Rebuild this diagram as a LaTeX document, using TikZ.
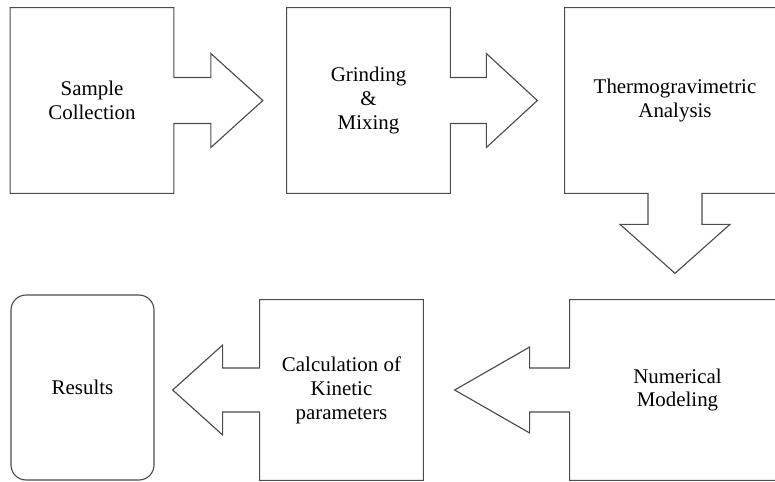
\documentclass[tikz,border=0pt]{standalone}
\usepackage{fontspec}
\setmainfont{Liberation Serif}
\usetikzlibrary{calc}

\begin{document}
\begin{tikzpicture}[
    x=0.02cm, y=-0.02cm,
    stage/.style={rectangle, inner sep=0pt, minimum width=3.26cm, minimum height=3.7cm, align=center, font=\fontsize{11.9}{13.6}\selectfont},
    wide_stage/.style={stage, minimum width=4.4cm},
    low_stage/.style={stage, minimum height=3.6cm},
    outline/.style={draw=black!70, line width=0.65pt, line join=miter},
    result_box/.style={stage, outline, rounded corners=0.3cm, minimum width=2.86cm}
]
\clip (0,0) rectangle (775,481);

% --- TOP ROW ---
\node[stage] (sample) at (92,100.5) {Sample\\Collection};
\node[stage] (grind) at (368.5,100.5) {Grinding\\\&\\Mixing};
\node[wide_stage] (thermo) at (675,100.5) {Thermogravimetric\\Analysis};

% Box outlines with block arrows to the right
\draw[outline] (sample.north west) -- (sample.north east) -- ($(sample.east)+(0,-23)$) -- ++(37,0) -- ++(0,-24)
    -- ++(52,47) -- ++(-52,47) -- ++(0,-24) -- ++(-37,0) -- (sample.south east) -- (sample.south west) -- cycle;
\draw[outline] (grind.north west) -- (grind.north east) -- ($(grind.east)+(0,-23)$) -- ++(36,0) -- ++(0,-24)
    -- ++(51,47) -- ++(-51,47) -- ++(0,-24) -- ++(-36,0) -- (grind.south east) -- (grind.south west) -- cycle;

% Block arrow pointing down
\draw[outline] (thermo.south west) -- ($(thermo.south)+(-27,0)$) -- ++(0,31) -- ++(-28,0) -- ++(55,49)
    -- ++(55,-49) -- ++(-28,0) -- ++(0,-31) -- (thermo.south east) -- (thermo.north east) -- (thermo.north west) -- cycle;

% --- BOTTOM ROW ---
\node[low_stage, minimum width=4.3cm] (numeric) at (677.5,390) {Numerical\\Modeling};
\node[low_stage] (kinetic) at (341.5,390) {Calculation of\\Kinetic\\parameters};
\node[result_box] (results) at (82.5,387.5) {Results};

% Box outlines with block arrows to the left
\draw[outline] (numeric.north east) -- (numeric.north west) -- ($(numeric.west)+(0,-22)$) -- ++(-40,0) -- ++(0,-21)
    -- ++(-75,43) -- ++(75,43) -- ++(0,-21) -- ++(40,0) -- (numeric.south west) -- (numeric.south east) -- cycle;
\draw[outline] (kinetic.north east) -- (kinetic.north west) -- ($(kinetic.west)+(0,-22)$) -- ++(-37,0) -- ++(0,-23)
    -- ++(-50,45) -- ++(50,45) -- ++(0,-23) -- ++(37,0) -- (kinetic.south west) -- (kinetic.south east) -- cycle;

\end{tikzpicture}
\end{document}
